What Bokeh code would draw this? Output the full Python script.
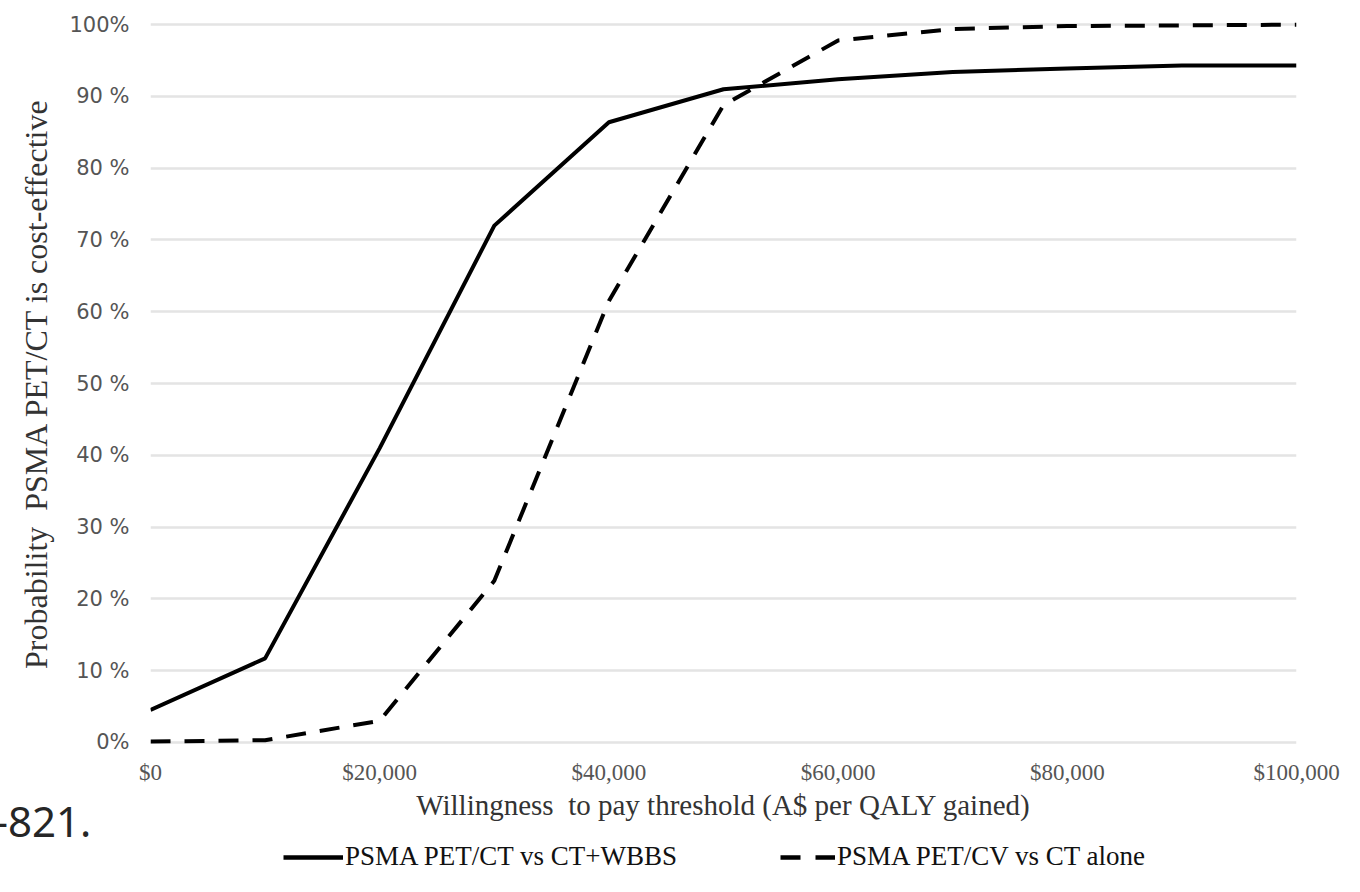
from bokeh.plotting import figure
from bokeh.layouts import column
from bokeh.models import Range1d, FixedTicker, Legend, LegendItem, Title, NumeralTickFormatter
from bokeh.embed import file_html
from bokeh.resources import INLINE

# ---- data ----
wtp_thresholds = [0, 10000, 20000, 30000, 40000, 50000, 60000, 70000, 80000, 90000, 100000]
psma_vs_ct_wbbs = [4.5, 11.7, 41.0, 72.0, 86.4, 91.0, 92.4, 93.4, 93.9, 94.3, 94.3]
psma_vs_ct_alone = [0.1, 0.3, 3.0, 22.5, 61.5, 88.8, 97.8, 99.4, 99.8, 99.9, 100.0]

x_ticks = [0, 20000, 40000, 60000, 80000, 100000]
y_ticks = [0, 10, 20, 30, 40, 50, 60, 70, 80, 90, 100]
y_tick_labels = ["0%", "10 %", "20 %", "30 %", "40 %", "50 %", "60 %", "70 %", "80 %", "90 %", "100%"]
series_names = ["PSMA PET/CT vs CT+WBBS", "PSMA PET/CV vs CT alone"]
x_title = "Willingness\u00a0 to pay threshold (A$ per QALY gained)"
y_title = "Probability\u00a0 PSMA PET/CT is cost-effective"
caption_fragment = "-821."

SERIF = "Liberation Serif"
FULL_W = 1352

# ---------------- main chart ----------------
p = figure(
    frame_width=1146, frame_height=732,
    x_range=Range1d(0, 100000), y_range=Range1d(-1, 101),
    output_backend="svg", toolbar_location=None,
    min_border_left=150, min_border_right=56, min_border_top=17, min_border_bottom=91,
    background_fill_color="white", border_fill_color="white",
)
p.outline_line_color = None

p.xgrid.visible = False
p.ygrid.ticker = FixedTicker(ticks=y_ticks)
p.ygrid.grid_line_color = "#e4e4e4"
p.ygrid.grid_line_width = 2.5

p.xaxis.ticker = FixedTicker(ticks=x_ticks)
p.xaxis.formatter = NumeralTickFormatter(format="$0,0")
p.xaxis.axis_line_color = None
p.xaxis.major_tick_line_color = None
p.xaxis.minor_tick_line_color = None
p.xaxis.major_label_text_font = SERIF
p.xaxis.major_label_text_font_size = "23px"
p.xaxis.major_label_text_color = "#555555"
p.xaxis.major_label_standoff = 4
p.xaxis.axis_label = x_title
p.xaxis.axis_label_text_font = SERIF
p.xaxis.axis_label_text_font_size = "29px"
p.xaxis.axis_label_text_font_style = "normal"
p.xaxis.axis_label_text_color = "#333333"
p.xaxis.axis_label_standoff = 1

p.yaxis.ticker = FixedTicker(ticks=y_ticks)
p.yaxis.major_label_overrides = {t: lab for t, lab in zip(y_ticks, y_tick_labels)}
p.yaxis.axis_line_color = None
p.yaxis.major_tick_line_color = None
p.yaxis.minor_tick_line_color = None
p.yaxis.major_label_text_font = "DejaVu Sans"
p.yaxis.major_label_text_font_size = "21px"
p.yaxis.major_label_text_color = "#555555"
p.yaxis.major_label_standoff = 15
p.yaxis.axis_label = y_title
p.yaxis.axis_label_text_font = SERIF
p.yaxis.axis_label_text_font_size = "32px"
p.yaxis.axis_label_text_font_style = "normal"
p.yaxis.axis_label_text_color = "#333333"
p.yaxis.axis_label_standoff = 12

p.line(wtp_thresholds, psma_vs_ct_wbbs, line_color="black", line_width=4)
p.line(wtp_thresholds, psma_vs_ct_alone, line_color="black", line_width=4, line_dash="20 14")

# caption fragment of the surrounding page, bottom-left, beside the axis title
caption = Title(text=caption_fragment, align="left", offset=-156, standoff=-34,
                vertical_align="top", text_font="Noto Sans", text_font_size="42px",
                text_font_style="normal", text_color="#262626")
p.add_layout(caption, "below")

# ---------------- legend strip ----------------
b = figure(
    width=FULL_W, height=52,
    x_range=Range1d(0, 100000), y_range=Range1d(1000, 1100),
    x_axis_location=None, y_axis_location=None,
    output_backend="svg", toolbar_location=None,
    min_border=0, background_fill_color="white", border_fill_color="white",
)
b.outline_line_color = None
b.grid.visible = False

# same two series, styled as in the chart (they fall outside this strip's view; only the key shows)
k1 = b.line(wtp_thresholds, psma_vs_ct_wbbs, line_color="black", line_width=4.5)
k2 = b.line(wtp_thresholds, psma_vs_ct_alone, line_color="black", line_width=4.5, line_dash="20 15")

def make_legend(item_label, renderer, loc, gw):
    return Legend(items=[LegendItem(label=item_label, renderers=[renderer])],
                  location=loc, orientation="horizontal",
                  glyph_width=gw, glyph_height=24, label_height=24, label_standoff=2,
                  padding=0, margin=0, spacing=0,
                  border_line_color=None, background_fill_alpha=0,
                  label_text_font=SERIF, label_text_font_size="27px",
                  label_text_color="#111111")

b.add_layout(make_legend(series_names[0], k1, (133, 20), 60))
b.add_layout(make_legend(series_names[1], k2, (630, 20), 55))

layout = column(p, b, spacing=0)
open("out.html", "w").write(file_html(layout, INLINE))
